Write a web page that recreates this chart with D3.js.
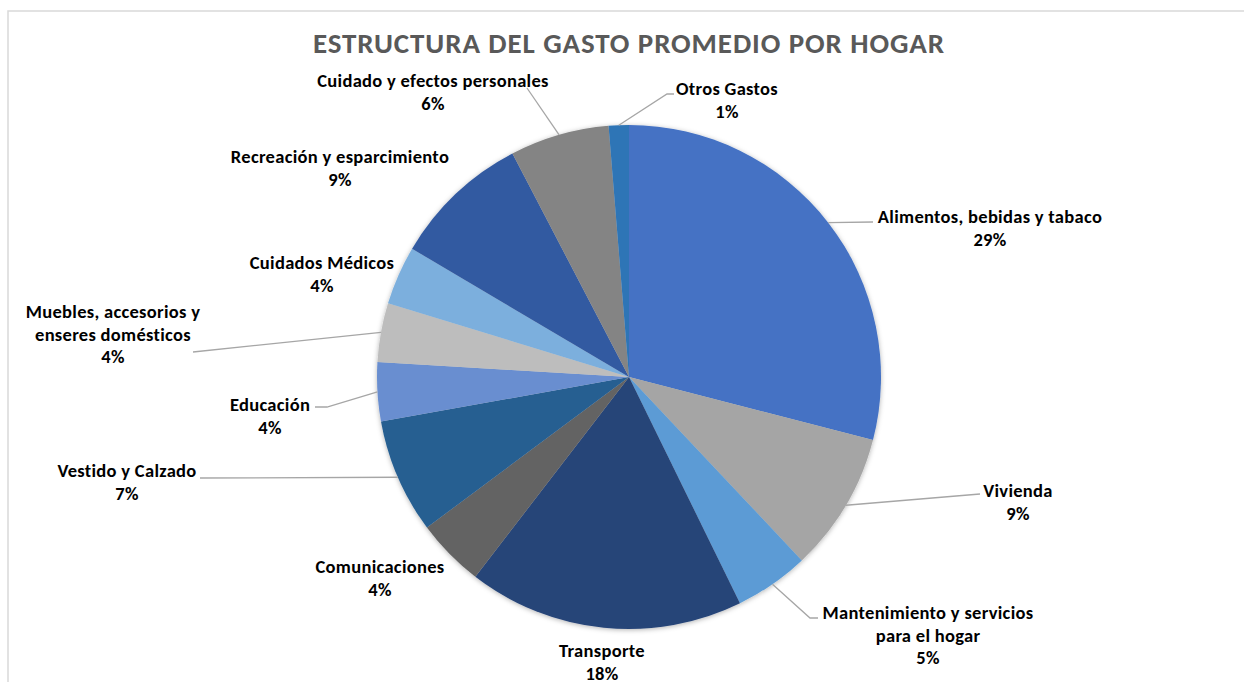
<!DOCTYPE html>
<html>
<head>
<meta charset="utf-8">
<script src="https://cdn.jsdelivr.net/npm/d3@7"></script>
<style>
  html, body { margin: 0; padding: 0; background: #fff; }
  svg { display: block; }
  text { font-family: Calibri, Carlito, Lato, sans-serif; font-weight: bold; }
</style>
</head>
<body>
<div id="chart"></div>
<script>
// categories in clockwise order starting at 12 o'clock
const categories = [
  'Alimentos, bebidas y tabaco',
  'Vivienda',
  'Mantenimiento y servicios para el hogar',
  'Transporte',
  'Comunicaciones',
  'Vestido y Calzado',
  'Educación',
  'Muebles, accesorios y enseres domésticos',
  'Cuidados Médicos',
  'Recreación y esparcimiento',
  'Cuidado y efectos personales',
  'Otros Gastos'
];
// share of spending (%)
const values = [29.2, 9.0, 4.8, 17.8, 4.4, 7.4, 3.8, 3.8, 3.8, 8.9, 6.4, 1.3];
// how each label is broken into lines
const labelLines = [
  ['Alimentos, bebidas y tabaco'],
  ['Vivienda'],
  ['Mantenimiento y servicios', 'para el hogar'],
  ['Transporte'],
  ['Comunicaciones'],
  ['Vestido y Calzado'],
  ['Educación'],
  ['Muebles, accesorios y', 'enseres domésticos'],
  ['Cuidados Médicos'],
  ['Recreación y esparcimiento'],
  ['Cuidado y efectos personales'],
  ['Otros Gastos']
];
const colors = ['#4472C4', '#A5A5A5', '#5B9BD5', '#264478', '#636363', '#255E91',
  '#698ED0', '#BDBDBD', '#7CAFDD', '#335AA1', '#848484', '#2E75B6'];

// label placement (text centre x, first baseline y) and leader end points
const labelLayout = [
  { x: 990, y: 223, leader: [[873, 222]] },
  { x: 1018, y: 497, leader: [[980, 494]] },
  { x: 928, y: 619, leader: [[810, 618], [818, 618]] },
  { x: 602, y: 657, leader: null },
  { x: 380, y: 573, leader: null },
  { x: 127, y: 477, leader: [[200, 478]] },
  { x: 270, y: 411, leader: [[327, 407], [315, 407]] },
  { x: 113, y: 318, leader: [[193, 352]] },
  { x: 322, y: 269, leader: null },
  { x: 340, y: 163, leader: null },
  { x: 433, y: 87, leader: [[527, 88]] },
  { x: 727, y: 95, leader: [[667, 94], [674, 94]] }
];

const width = 1244, height = 682;
const cx = 629, cy = 377, radius = 252;
const lineHeight = 22.5;

const svg = d3.select('#chart').append('svg')
  .attr('width', width).attr('height', height);

// chart frame (only top and left edges are visible)
svg.append('rect')
  .attr('x', 8).attr('y', 11)
  .attr('width', width + 20).attr('height', height + 20)
  .attr('fill', 'none').attr('stroke', '#D9D9D9').attr('stroke-width', 1.5);

// soft shadow under the pie
const defs = svg.append('defs');
const filter = defs.append('filter').attr('id', 'shadow')
  .attr('x', '-10%').attr('y', '-10%').attr('width', '120%').attr('height', '120%');
filter.append('feDropShadow')
  .attr('dx', 0).attr('dy', 1).attr('stdDeviation', 2.5)
  .attr('flood-color', '#000').attr('flood-opacity', 0.3);

// title
svg.append('text')
  .attr('x', cx).attr('y', 53)
  .attr('text-anchor', 'middle')
  .attr('fill', '#595959')
  .style('font-size', '29px')
  .style('letter-spacing', '0.9px')
  .text('ESTRUCTURA DEL GASTO PROMEDIO POR HOGAR');

const total = d3.sum(values);
const pie = d3.pie().sort(null).value(d => d);
const pieData = pie(values);
const arc = d3.arc().innerRadius(0).outerRadius(radius);

const g = svg.append('g')
  .attr('transform', 'translate(' + cx + ',' + cy + ')');

g.append('g').attr('filter', 'url(#shadow)')
  .selectAll('path')
  .data(pieData)
  .enter().append('path')
  .attr('fill', (d, i) => colors[i])
  .attr('d', arc);

// leader lines: from the slice edge at mid angle to the label
const edgePoint = d => {
  const a = (d.startAngle + d.endAngle) / 2;
  return [cx + radius * Math.sin(a), cy - radius * Math.cos(a)];
};

svg.append('g').selectAll('path')
  .data(pieData.filter((d, i) => labelLayout[i].leader))
  .enter().append('path')
  .attr('fill', 'none')
  .attr('stroke', '#A6A6A6')
  .attr('stroke-width', 1.3)
  .attr('d', d => d3.line()([edgePoint(d)].concat(labelLayout[d.index].leader)));

// data labels: category name + rounded percent
const labels = svg.append('g').selectAll('text')
  .data(pieData)
  .enter().append('text')
  .attr('text-anchor', 'middle')
  .attr('fill', '#000')
  .style('font-size', '18.5px')
  .style('letter-spacing', '0.3px')
  .attr('x', (d, i) => labelLayout[i].x)
  .attr('y', (d, i) => labelLayout[i].y);

labels.each(function (d, i) {
  const t = d3.select(this);
  const lines = labelLines[i].concat([Math.round(d.value / total * 100) + '%']);
  lines.forEach((line, k) => {
    t.append('tspan')
      .attr('x', labelLayout[i].x)
      .attr('dy', k === 0 ? 0 : lineHeight)
      .text(line);
  });
});
</script>
</body>
</html>
